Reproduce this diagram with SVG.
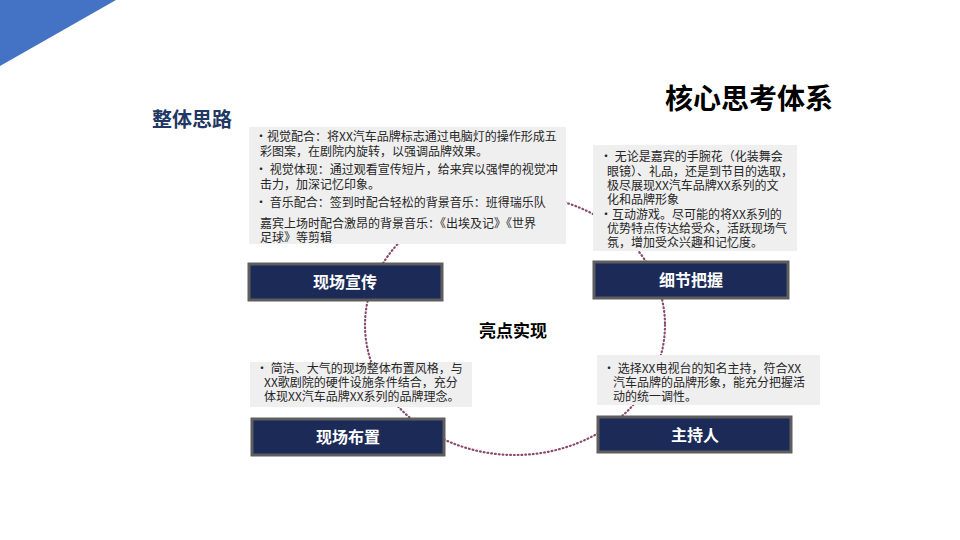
<svg xmlns="http://www.w3.org/2000/svg" width="960" height="540" viewBox="0 0 960 540">
<style>
.txt{font-family:"Noto Sans CJK SC","Noto Sans",sans-serif;font-size:12px;fill:#262626;}
.card{fill:#efefef;}
.lab{fill:#1b2a57;stroke:#5e5e5e;stroke-width:3;}
.labt{font-family:"Noto Sans CJK SC","Noto Sans",sans-serif;font-size:16px;font-weight:bold;fill:#ffffff;text-anchor:middle;}
.ring{fill:none;stroke:#8a4a6e;stroke-width:2.2;stroke-dasharray:0.8 3;stroke-linecap:round;}
</style>
<rect width="960" height="540" fill="#ffffff"/>
<polygon points="0,0 116,0 0,66" fill="#4472c4"/>
<text x="833" y="109" text-anchor="end" font-family="'Noto Sans CJK SC','Noto Sans',sans-serif" font-size="28" font-weight="bold" fill="#000000">核心思考体系</text>
<text x="152" y="127" font-family="'Noto Sans CJK SC','Noto Sans',sans-serif" font-size="20" font-weight="bold" fill="#1f3864">整体思路</text>
<g id="connectors">
<ellipse class="ring" cx="515" cy="325" rx="150" ry="130"/>
</g>
<text x="513" y="337" text-anchor="middle" font-family="'Noto Sans CJK SC','Noto Sans',sans-serif" font-size="17" font-weight="bold" fill="#000000">亮点实现</text>
<g id="node-xianchang-xuanchuan">
<rect class="card" x="249" y="127" width="317" height="117"/>
<text class="txt"><tspan x="255" y="141">•视觉配合：将XX汽车品牌标志通过电脑灯的操作形成五</tspan><tspan x="260" y="156">彩图案，在剧院内旋转，以强调品牌效果。</tspan><tspan x="255" y="174">• 视觉体现：通过观看宣传短片，给来宾以强悍的视觉冲</tspan><tspan x="260" y="189">击力，加深记忆印象。</tspan><tspan x="255" y="207">• 音乐配合：签到时配合轻松的背景音乐：班得瑞乐队</tspan><tspan x="260" y="228">嘉宾上场时配合激昂的背景音乐：《出埃及记》《世界</tspan><tspan x="260" y="242">足球》等剪辑</tspan></text>
<rect class="lab" x="249" y="264" width="193" height="36"/>
<text class="labt" x="345" y="288">现场宣传</text>
</g>
<g id="node-xijie-bawo">
<rect class="card" x="593" y="145" width="204" height="106"/>
<text class="txt"><tspan x="600" y="161">• 无论是嘉宾的手腕花（化装舞会</tspan><tspan x="607" y="176">眼镜）、礼品，还是到节目的选取，</tspan><tspan x="607" y="190">极尽展现XX汽车品牌XX系列的文</tspan><tspan x="607" y="204">化和品牌形象</tspan><tspan x="600" y="219">•互动游戏。尽可能的将XX系列的</tspan><tspan x="607" y="233">优势特点传达给受众，活跃现场气</tspan><tspan x="607" y="247">氛，增加受众兴趣和记忆度。</tspan></text>
<rect class="lab" x="594" y="262" width="194" height="36"/>
<text class="labt" x="691" y="286">细节把握</text>
</g>
<g id="node-xianchang-buzhi">
<rect class="card" x="250" y="362" width="222" height="45"/>
<text class="txt"><tspan x="256" y="373">• 简洁、大气的现场整体布置风格，与</tspan><tspan x="264" y="387">XX歌剧院的硬件设施条件结合，充分</tspan><tspan x="264" y="401">体现XX汽车品牌XX系列的品牌理念。</tspan></text>
<rect class="lab" x="252" y="419" width="192" height="36"/>
<text class="labt" x="348" y="443">现场布置</text>
</g>
<g id="node-zhuchiren">
<rect class="card" x="597" y="355" width="223" height="50"/>
<text class="txt"><tspan x="603" y="373">• 选择XX电视台的知名主持，符合XX</tspan><tspan x="613" y="387">汽车品牌的品牌形象，能充分把握活</tspan><tspan x="613" y="401">动的统一调性。</tspan></text>
<rect class="lab" x="598" y="417" width="193" height="35"/>
<text class="labt" x="695" y="441">主持人</text>
</g>
</svg>
